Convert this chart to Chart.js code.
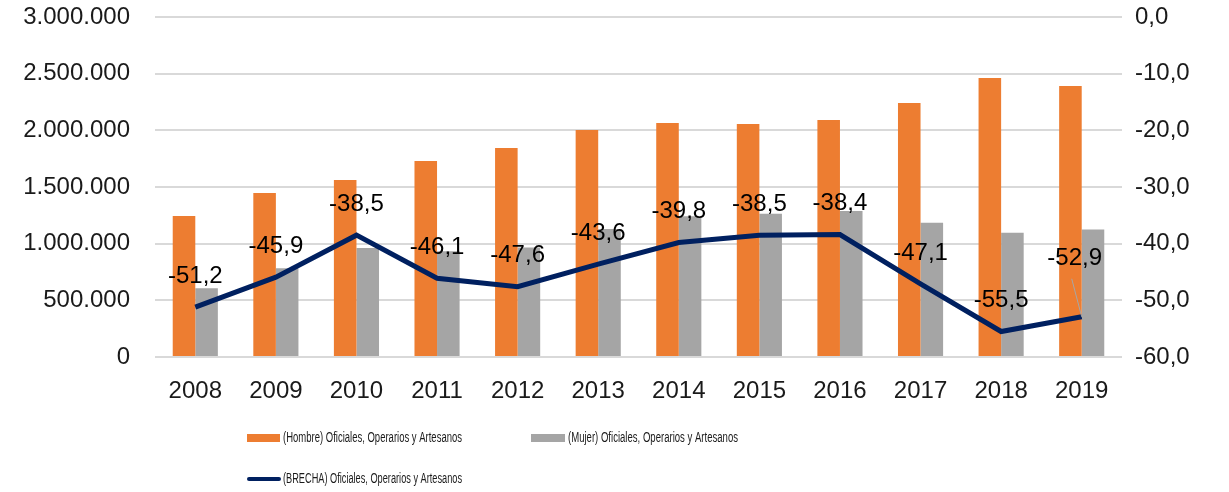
<!DOCTYPE html>
<html>
<head>
<meta charset="utf-8">
<script src="https://cdn.jsdelivr.net/npm/chart.js@4/dist/chart.umd.min.js"></script>
<style>
  body { margin: 0; background: #fff; }
</style>
</head>
<body>
<canvas id="chart" width="1229" height="492"></canvas>
<script>
const years = ['2008', '2009', '2010', '2011', '2012', '2013', '2014', '2015', '2016', '2017', '2018', '2019'];
const hombre = [1244000, 1447000, 1562000, 1729000, 1844000, 2003000, 2065000, 2056000, 2091000, 2241000, 2462000, 2391000];
const mujer = [607000, 783000, 961000, 932000, 966000, 1130000, 1243000, 1264000, 1288000, 1185000, 1096000, 1126000];
const brecha = [-51.2, -45.9, -38.5, -46.1, -47.6, -43.6, -39.8, -38.5, -38.4, -47.1, -55.5, -52.9];

const labelHombre = '(Hombre) Oficiales, Operarios y Artesanos';
const labelMujer = '(Mujer) Oficiales, Operarios y Artesanos';
const labelBrecha = '(BRECHA) Oficiales, Operarios y Artesanos';

const tickFont = { family: "'Liberation Sans', Arial, sans-serif", size: 24 };
const textColor = '#1a1a1a';

const fmtThousands = v => String(Math.round(v)).replace(/\B(?=(\d{3})+(?!\d))/g, '.');
const fmtComma = v => v.toFixed(1).replace('.', ',');

// y scales: fixed width, and don't let tick padding push the plot down
const fitY = w => s => {
  s.width = w;
  s.paddingTop = 0;
  s.paddingBottom = 0;
};

// labels over the BRECHA line, 2019 one is moved off with a leader line
const pointLabels = {
  id: 'pointLabels',
  afterDatasetsDraw(chart) {
    const ctx = chart.ctx;
    const meta = chart.getDatasetMeta(2);
    ctx.save();
    ctx.font = "24px 'Liberation Sans', Arial, sans-serif";
    ctx.fillStyle = '#000';
    ctx.textAlign = 'center';
    ctx.textBaseline = 'middle';
    meta.data.forEach((pt, i) => {
      let x = pt.x, y = pt.y - 31;
      if (i === brecha.length - 1) {
        x = pt.x - 7;
        y = pt.y - 58;
        ctx.strokeStyle = '#a6a6a6';
        ctx.lineWidth = 1;
        ctx.beginPath();
        ctx.moveTo(pt.x - 10, y + 20);
        ctx.lineTo(pt.x, pt.y);
        ctx.stroke();
      }
      ctx.fillText(fmtComma(brecha[i]), x, y);
    });
    ctx.restore();
  }
};

// legend drawn by hand in two rows like the original
const customLegend = {
  id: 'customLegend',
  afterDraw(chart) {
    const ctx = chart.ctx;
    ctx.save();
    ctx.font = "14px 'Liberation Sans', Arial, sans-serif";
    ctx.textBaseline = 'middle';
    ctx.textAlign = 'left';

    ctx.fillStyle = '#ED7D31';
    ctx.fillRect(247, 434, 33, 8);
    ctx.fillStyle = '#A5A5A5';
    ctx.fillRect(531, 434, 34, 8);

    ctx.strokeStyle = '#002060';
    ctx.lineWidth = 4;
    ctx.lineCap = 'round';
    ctx.beginPath();
    ctx.moveTo(249, 479);
    ctx.lineTo(279, 479);
    ctx.stroke();

    ctx.fillStyle = textColor;
    ctx.fillText(labelHombre, 283, 438, 179);
    ctx.fillText(labelMujer, 568, 438, 170);
    ctx.fillText(labelBrecha, 283, 479, 179);
    ctx.restore();
  }
};

new Chart(document.getElementById('chart').getContext('2d'), {
  data: {
    labels: years,
    datasets: [
      {
        type: 'bar',
        label: labelHombre,
        data: hombre,
        backgroundColor: '#ED7D31',
        yAxisID: 'y',
        order: 2,
        categoryPercentage: 0.56,
        barPercentage: 1
      },
      {
        type: 'bar',
        label: labelMujer,
        data: mujer,
        backgroundColor: '#A5A5A5',
        yAxisID: 'y',
        order: 2,
        categoryPercentage: 0.56,
        barPercentage: 1
      },
      {
        type: 'line',
        label: labelBrecha,
        data: brecha,
        borderColor: '#002060',
        borderWidth: 5,
        pointRadius: 0,
        tension: 0,
        yAxisID: 'y2',
        order: 0
      }
    ]
  },
  options: {
    responsive: false,
    animation: false,
    layout: { padding: { top: 17, bottom: 85, left: 0, right: 0 } },
    plugins: {
      legend: { display: false },
      tooltip: { enabled: false }
    },
    scales: {
      x: {
        grid: { display: false, drawTicks: false },
        border: { display: false },
        ticks: { font: tickFont, color: textColor, padding: 20 },
        afterFit: s => { s.height = 50; }
      },
      y: {
        position: 'left',
        min: 0,
        max: 3000000,
        ticks: { stepSize: 500000, font: tickFont, color: textColor, padding: 25, callback: v => fmtThousands(v) },
        grid: { color: '#d9d9d9', lineWidth: 2, drawTicks: false },
        border: { display: false },
        afterFit: fitY(155)
      },
      y2: {
        position: 'right',
        min: -60,
        max: 0,
        ticks: { stepSize: 10, font: tickFont, color: textColor, padding: 13, callback: v => fmtComma(v) },
        grid: { display: false, drawTicks: false },
        border: { display: false },
        afterFit: fitY(107)
      }
    }
  },
  plugins: [pointLabels, customLegend]
});
</script>
</body>
</html>
